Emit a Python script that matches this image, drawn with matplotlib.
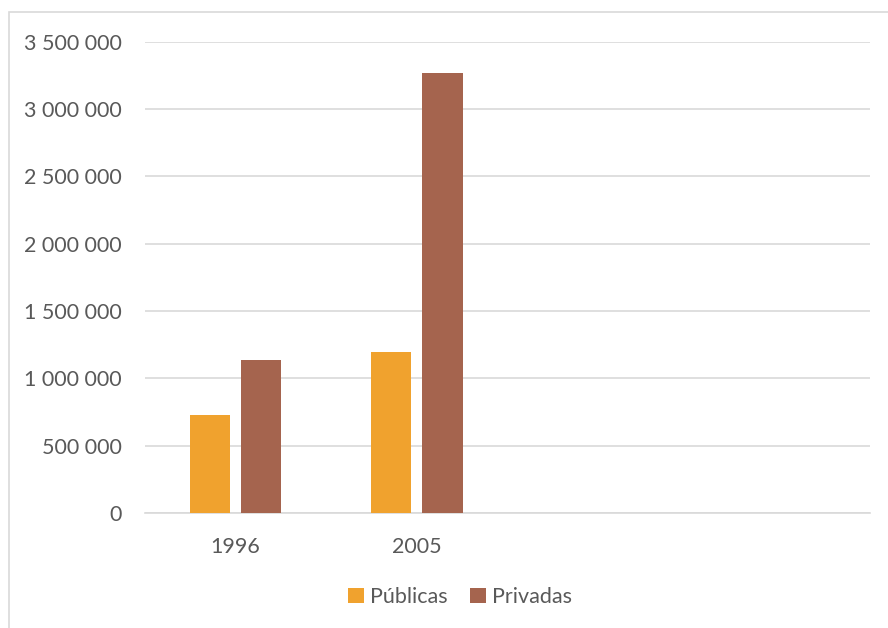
import matplotlib
matplotlib.use("Agg")
import matplotlib.pyplot as plt
from matplotlib.patches import Rectangle
from matplotlib.ticker import FuncFormatter, MultipleLocator
import numpy as np

# Enrolment by sector
years = ["1996", "2005", "", ""]
publicas = [725000, 1193000, np.nan, np.nan]
privadas = [1133000, 3265000, np.nan, np.nan]
series_names = ["Públicas", "Privadas"]

c_pub = "#F0A22E"
c_priv = "#A5644E"
text_c = "#595959"
grid_c = "#D9D9D9"

plt.rcParams["font.family"] = ["Lato", "DejaVu Sans"]

fig = plt.figure(figsize=(8.88, 6.28), dpi=100)
ax = fig.add_axes([145 / 888, 1 - 513 / 628, 725 / 888, 471.2 / 628])

x = np.arange(len(years))
w = 0.222
ax.bar(x - 0.142, publicas, w, color=c_pub, label=series_names[0], zorder=3)
ax.bar(x + 0.142, privadas, w, color=c_priv, label=series_names[1], zorder=3)

ax.set_xlim(-0.5, len(years) - 0.5)
ax.set_ylim(0, 3500000)
ax.yaxis.set_major_locator(MultipleLocator(500000))
ax.yaxis.set_major_formatter(FuncFormatter(lambda v, p: f"{v:,.0f}".replace(",", " ")))
ax.set_xticks(x)
ax.set_xticklabels(years)

ax.grid(axis="y", color=grid_c, lw=1.2, zorder=0)
for side in ["top", "right", "left"]:
    ax.spines[side].set_visible(False)
ax.spines["bottom"].set_color(grid_c)
ax.spines["bottom"].set_linewidth(1.2)
ax.tick_params(axis="both", length=0, colors=text_c, labelsize=15.5)
ax.tick_params(axis="y", pad=16.5)
ax.tick_params(axis="x", pad=17)

leg = fig.legend(loc="center", bbox_to_anchor=(460 / 888, 1 - 597 / 628), ncol=2,
                 frameon=False, fontsize=15.5, handlelength=0.75, handleheight=0.75,
                 handletextpad=0.3, columnspacing=1.0)
for t in leg.get_texts():
    t.set_color(text_c)

# chart frame
fig.patches.append(Rectangle((9 / 888, -0.1), 1.2, 1 - 12 / 628 + 0.1,
                             transform=fig.transFigure, fill=False,
                             edgecolor=grid_c, lw=1.2))

fig.savefig("out.png", dpi=100)
